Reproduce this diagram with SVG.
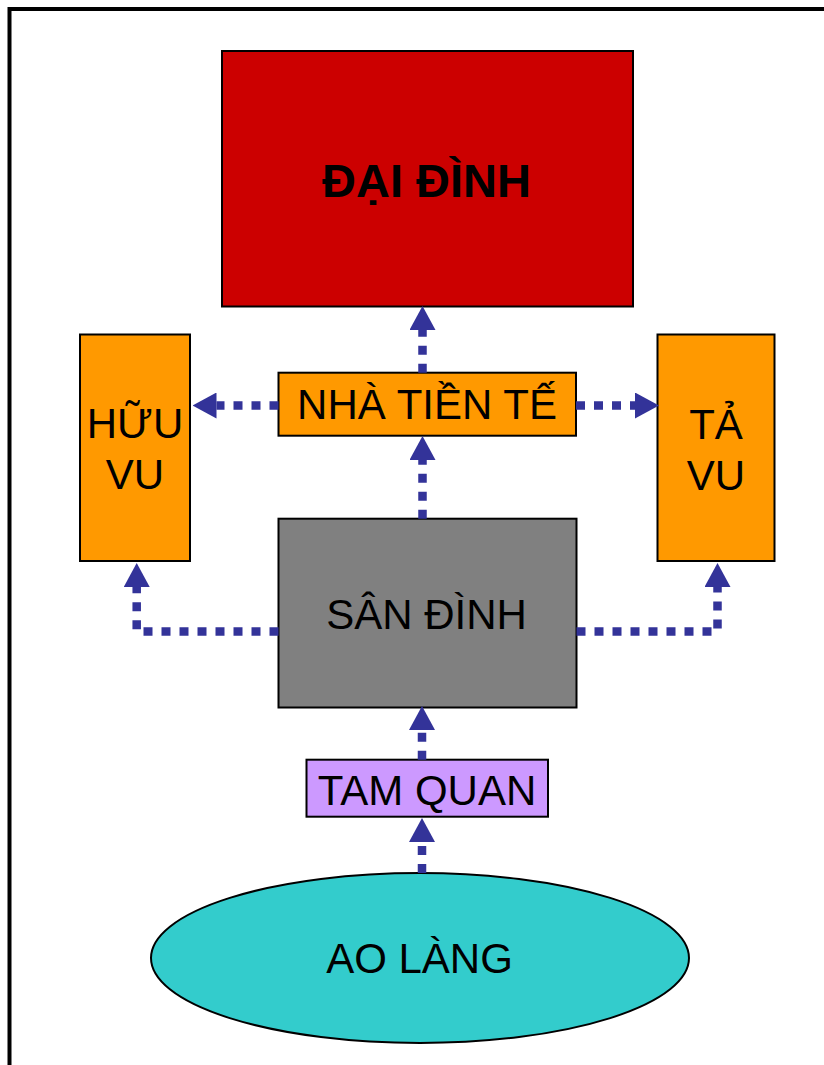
<svg xmlns="http://www.w3.org/2000/svg" width="824" height="1065" viewBox="0 0 824 1065">
<style>
.box{stroke:#000;stroke-width:2}
.lbl{font-family:"Liberation Sans",Arial,sans-serif;font-size:42px;fill:#000;text-anchor:middle}
.conn{fill:none;stroke:#333399;stroke-width:8.5;stroke-dasharray:9 9}
</style>
<defs>
<marker id="arr" viewBox="0 0 24 26" refX="0" refY="13" markerWidth="24" markerHeight="26" markerUnits="userSpaceOnUse" orient="auto">
<path d="M0,0 L24,13 L0,26 Z" fill="#333399"/>
</marker>
</defs>
<rect width="824" height="1065" fill="#fff"/>
<rect id="frame" x="9.5" y="9" width="830" height="1070" fill="none" stroke="#000" stroke-width="4"/>

<g id="dai-dinh">
<rect class="box" x="222" y="51" width="411" height="255.5" fill="#CC0000"/>
<text class="lbl" x="426.5" y="197" style="font-size:47px;font-weight:bold">ĐẠI ĐÌNH</text>
</g>
<g id="huu-vu">
<rect class="box" x="80" y="334.5" width="110" height="226.5" fill="#FF9900"/>
<text class="lbl" x="135" y="438">HỮU</text>
<text class="lbl" x="135" y="489">VU</text>
</g>
<g id="ta-vu">
<rect class="box" x="657.5" y="334.5" width="117" height="226.5" fill="#FF9900"/>
<text class="lbl" x="716" y="439">TẢ</text>
<text class="lbl" x="716" y="490">VU</text>
</g>
<g id="nha-tien-te">
<rect class="box" x="278.5" y="372.7" width="297.5" height="63" fill="#FF9900"/>
<text class="lbl" x="427" y="419">NHÀ TIỀN TẾ</text>
</g>
<g id="san-dinh">
<rect class="box" x="278.5" y="518.7" width="298" height="188.8" fill="#808080"/>
<text class="lbl" x="426.5" y="629">SÂN ĐÌNH</text>
</g>
<g id="tam-quan">
<rect class="box" x="306.5" y="759.7" width="241.5" height="57" fill="#CC99FF"/>
<text class="lbl" x="427" y="805">TAM QUAN</text>
</g>
<g id="ao-lang">
<ellipse class="box" cx="420" cy="958" rx="269" ry="85" fill="#33CCCC"/>
<text class="lbl" x="419.5" y="973">AO LÀNG</text>
</g>

<g id="connectors">
<path class="conn" d="M422.5,372.7 V330" marker-end="url(#arr)"/>
<path class="conn" d="M278.5,405.5 H216.5" marker-end="url(#arr)"/>
<path class="conn" d="M576,405.5 H635" marker-end="url(#arr)"/>
<path class="conn" d="M422.5,518.7 V460" marker-end="url(#arr)"/>
<path class="conn" d="M278.5,631.5 H136.7 V587" marker-end="url(#arr)"/>
<path class="conn" d="M576.5,631.5 H717.5 V587" marker-end="url(#arr)"/>
<path class="conn" d="M422,759.7 V730" marker-end="url(#arr)"/>
<path class="conn" d="M422,873 V842" marker-end="url(#arr)"/>
</g>
</svg>
